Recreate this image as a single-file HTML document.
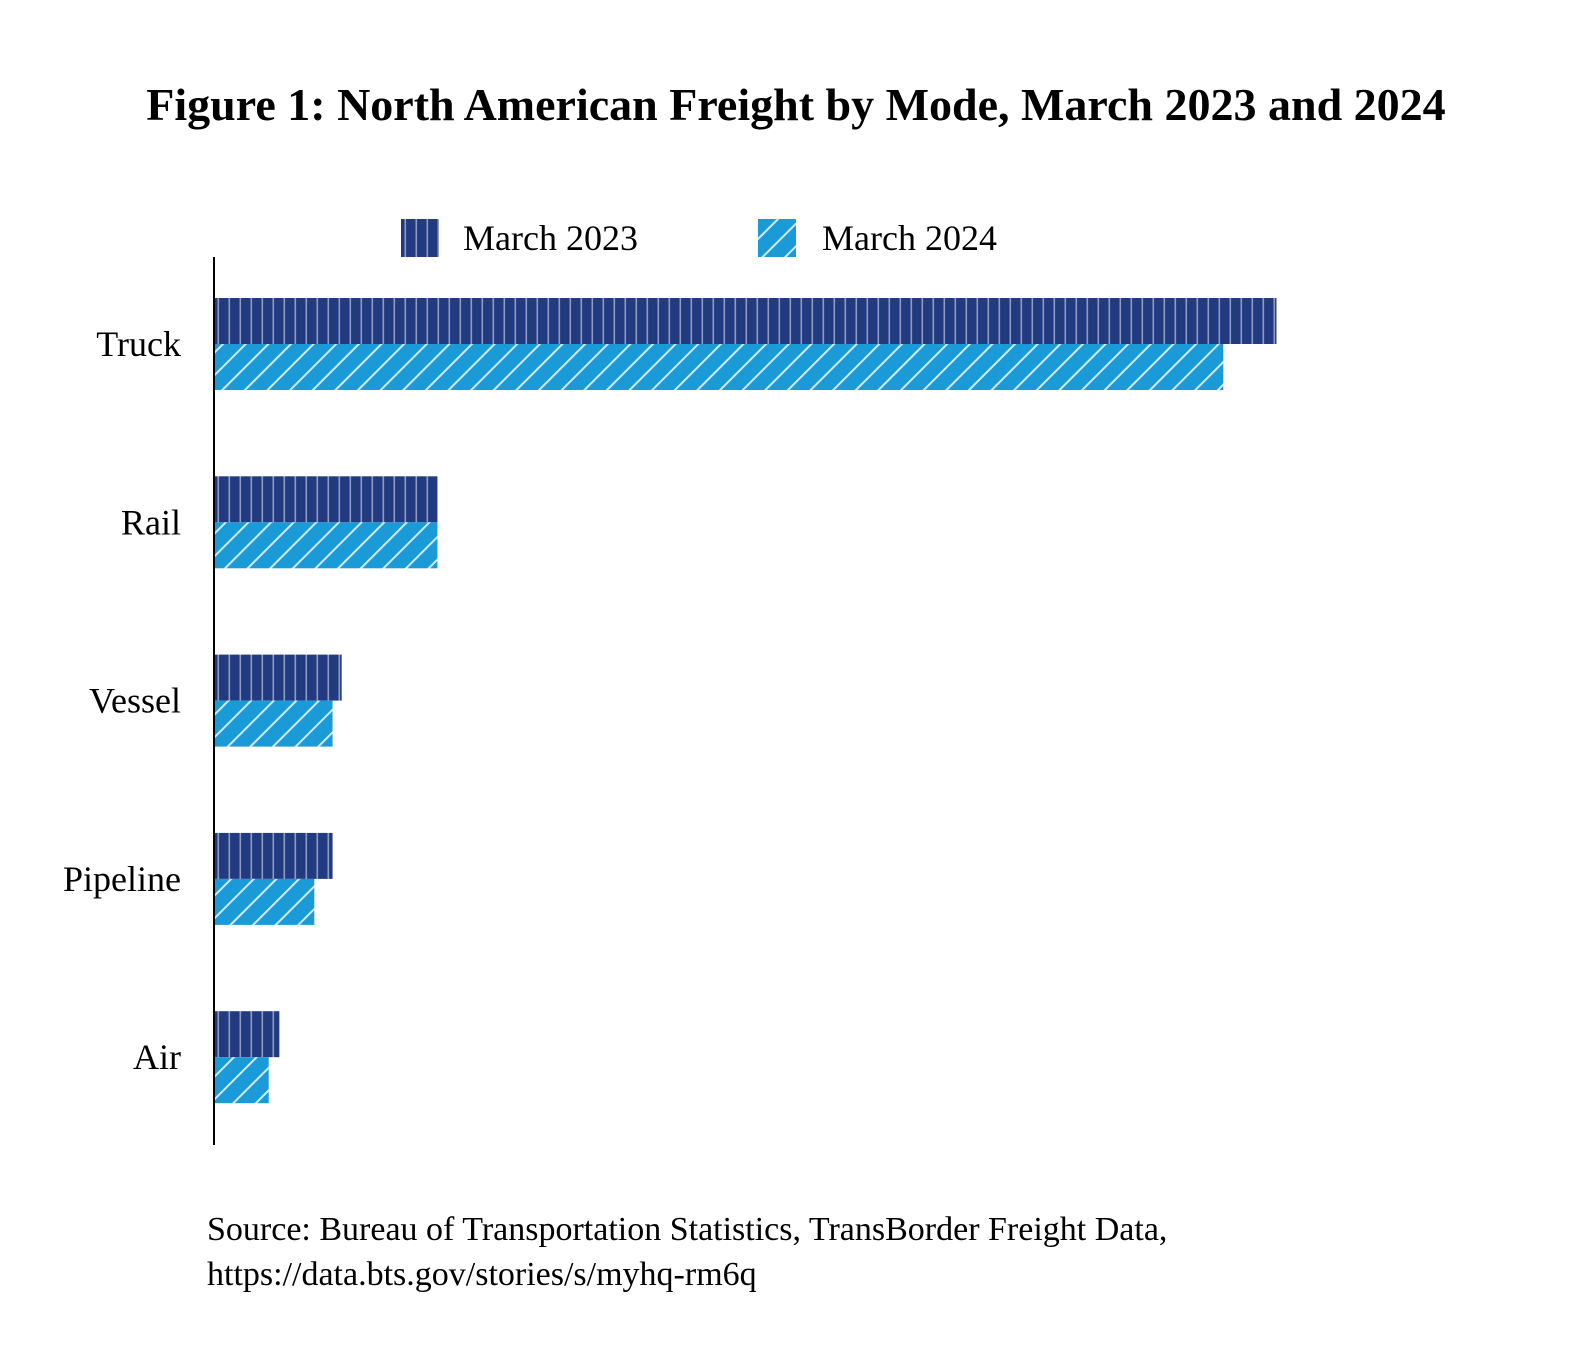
<!DOCTYPE html>
<html><head><meta charset="utf-8"><style>
body{margin:0;background:#fff;width:1592px;height:1356px;overflow:hidden}
svg{display:block;font-family:"Liberation Serif",serif}
</style></head><body>
<svg id="chart" width="1592" height="1356">
<defs>
<pattern id="pv" width="11" height="10" patternUnits="userSpaceOnUse">
<rect width="11" height="10" fill="#213a80"/><rect x="8.5" width="1.6" height="10" fill="#8e9cc4"/>
</pattern>
<pattern id="pd" width="16" height="16" patternUnits="userSpaceOnUse" patternTransform="rotate(45)">
<rect width="16" height="16" fill="#1a9bd7"/><rect x="0" width="2" height="16" fill="#cfe9f6"/>
</pattern>
</defs>
<text x="796" y="120" text-anchor="middle" font-size="46" font-weight="bold">Figure 1: North American Freight by Mode, March 2023 and 2024</text>
<g>
<rect x="401" y="219" width="38" height="38" fill="url(#pv)"/>
<text x="463" y="250" font-size="36">March 2023</text>
<rect x="758" y="219" width="38" height="38" fill="url(#pd)"/>
<text x="822" y="250" font-size="36">March 2024</text>
</g>
<g id="bars"></g>
<line x1="214" y1="257" x2="214" y2="1145" stroke="#000" stroke-width="2"/>
<text x="207" y="1240" font-size="34">Source: Bureau of Transportation Statistics, TransBorder Freight Data,</text>
<text x="207" y="1285" font-size="34">https://data.bts.gov/stories/s/myhq-rm6q</text>
</svg>
<script>
const categories=["Truck","Rail","Vessel","Pipeline","Air"];
const series2023=[69.9,14.7,8.4,7.8,4.3];
const series2024=[66.4,14.7,7.8,6.6,3.6];
const x0=214, pxPer=15.2, firstCenter=344, step=178.3, barH=46;
const xScale=v=>v*pxPer;
const yCenter=i=>firstCenter+i*step;
const g=document.getElementById('bars');
const NS="http://www.w3.org/2000/svg";
categories.forEach((c,i)=>{
  const cy=yCenter(i);
  const r1=document.createElementNS(NS,'rect');
  r1.setAttribute('x',x0);r1.setAttribute('y',cy-barH);r1.setAttribute('width',xScale(series2023[i]));r1.setAttribute('height',barH);r1.setAttribute('fill','url(#pv)');
  
  
  g.appendChild(r1);
  const r2=document.createElementNS(NS,'rect');
  r2.setAttribute('x',x0);r2.setAttribute('y',cy);r2.setAttribute('width',xScale(series2024[i]));r2.setAttribute('height',barH);r2.setAttribute('fill','url(#pd)');
  
  
  g.appendChild(r2);
  const t=document.createElementNS(NS,'text');
  t.setAttribute('x',181);t.setAttribute('y',cy+12);t.setAttribute('text-anchor','end');t.setAttribute('font-size','36');
  t.textContent=c;
  
  
  g.appendChild(t);
});
</script>
</body></html>
